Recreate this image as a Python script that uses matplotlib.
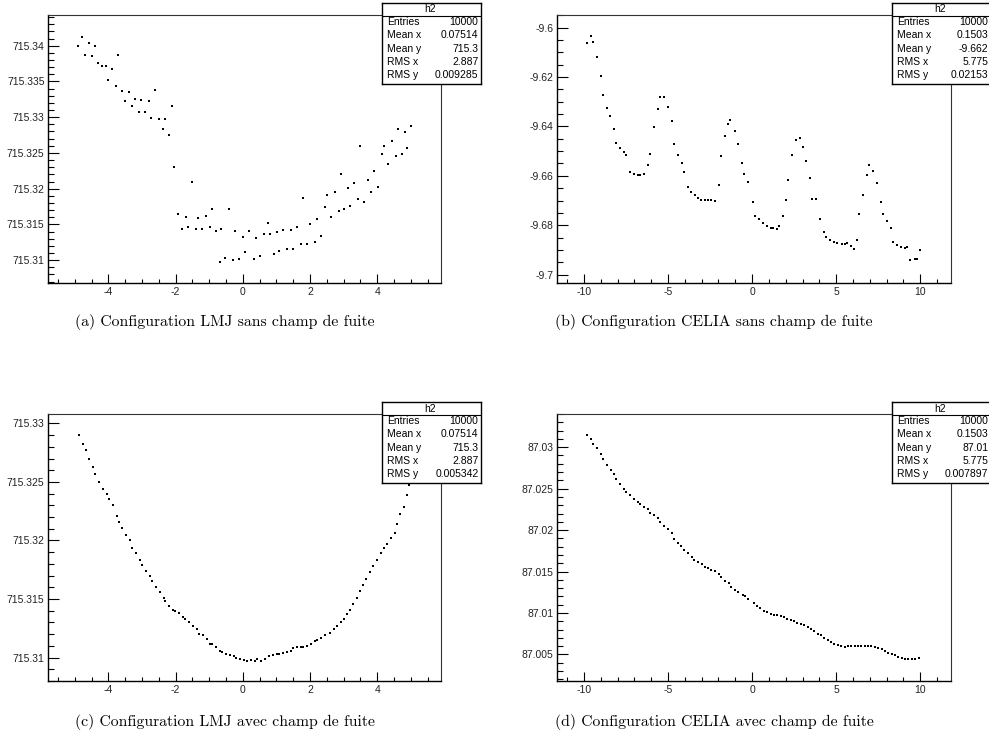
import matplotlib
matplotlib.use("Agg")
import matplotlib.pyplot as plt
from matplotlib.ticker import MultipleLocator, AutoMinorLocator, FuncFormatter

plt.rcParams["font.family"] = ["Liberation Sans", "DejaVu Sans"]

# ---- data ----
a_x = [-4.91, -4.78, -4.71, -4.59, -4.48, -4.41, -4.30, -4.19, -4.07, -4.02,
       -3.90, -3.79, -3.73, -3.60, -3.50, -3.38, -3.31, -3.20, -3.08, -3.02,
       -2.90, -2.80, -2.74, -2.62, -2.50, -2.39, -2.33, -2.21, -2.10, -2.04,
       -1.93, -1.81, -1.69, -1.63, -1.51, -1.39, -1.33, -1.22, -1.11, -0.99,
       -0.93, -0.81, -0.69, -0.64, -0.52, -0.40, -0.29, -0.23, -0.11, 0.01,
       0.07, 0.19, 0.32, 0.38, 0.50, 0.62, 0.74, 0.80, 0.92, 1.02,
       1.09, 1.21, 1.32, 1.44, 1.50, 1.61, 1.74, 1.79, 1.91, 2.01,
       2.15, 2.21, 2.32, 2.44, 2.50, 2.62, 2.74, 2.86, 2.91, 3.02,
       3.13, 3.20, 3.32, 3.43, 3.48, 3.60, 3.72, 3.83, 3.90, 4.02,
       4.14, 4.19, 4.31, 4.43, 4.55, 4.61, 4.73, 4.84, 4.90, 5.01]
a_y = [715.3399, 715.3412, 715.3387, 715.3404, 715.3386, 715.3400, 715.3376, 715.3372, 715.3371, 715.3352,
       715.3367, 715.3343, 715.3387, 715.3337, 715.3322, 715.3335, 715.3315, 715.3326, 715.3307, 715.3324,
       715.3307, 715.3322, 715.3299, 715.3338, 715.3298, 715.3283, 715.3297, 715.3275, 715.3315, 715.3231,
       715.3164, 715.3143, 715.3161, 715.3146, 715.3210, 715.3144, 715.3159, 715.3143, 715.3162, 715.3146,
       715.3172, 715.3141, 715.3098, 715.3143, 715.3103, 715.3172, 715.3100, 715.3141, 715.3102, 715.3133,
       715.3111, 715.3141, 715.3102, 715.3131, 715.3106, 715.3137, 715.3152, 715.3137, 715.3108, 715.3139,
       715.3113, 715.3142, 715.3115, 715.3142, 715.3115, 715.3147, 715.3122, 715.3187, 715.3122, 715.3150,
       715.3126, 715.3158, 715.3134, 715.3175, 715.3191, 715.3161, 715.3195, 715.3169, 715.3221, 715.3172,
       715.3201, 715.3176, 715.3208, 715.3186, 715.3260, 715.3182, 715.3212, 715.3195, 715.3225, 715.3203,
       715.3248, 715.3260, 715.3234, 715.3266, 715.3246, 715.3283, 715.3249, 715.3279, 715.3257, 715.3287]

b_x = [-9.82, -9.58, -9.44, -9.25, -9.01, -8.89, -8.65, -8.43, -8.19, -8.08,
       -7.84, -7.60, -7.48, -7.24, -7.00, -6.79, -6.65, -6.41, -6.17, -6.05,
       -5.81, -5.60, -5.46, -5.24, -5.00, -4.78, -4.66, -4.42, -4.19, -4.07,
       -3.83, -3.61, -3.37, -3.23, -3.02, -2.78, -2.64, -2.42, -2.20, -1.96,
       -1.85, -1.61, -1.41, -1.29, -1.03, -0.81, -0.58, -0.46, -0.26,
       0.06, 0.18, 0.42, 0.65, 0.89, 1.13, 1.25, 1.49, 1.61, 1.81,
       2.04, 2.16, 2.40, 2.60, 2.86, 3.00, 3.23, 3.45, 3.59, 3.83,
       4.05, 4.29, 4.38, 4.62, 4.86, 5.08, 5.32, 5.54, 5.67, 5.89,
       6.05, 6.25, 6.37, 6.61, 6.85, 6.96, 7.20, 7.44, 7.68, 7.80,
       8.02, 8.25, 8.37, 8.61, 8.85, 9.07, 9.19, 9.42, 9.66, 9.78, 10.0]
b_y = [-9.6061, -9.6032, -9.6057, -9.6120, -9.6196, -9.6272, -9.6326, -9.6358, -9.6412, -9.6466,
       -9.6488, -9.6504, -9.6515, -9.6585, -9.6591, -9.6596, -9.6596, -9.6592, -9.6558, -9.6511,
       -9.6401, -9.6331, -9.6282, -9.6282, -9.6320, -9.6380, -9.6472, -9.6515, -9.6547, -9.6585,
       -9.6645, -9.6666, -9.6677, -9.6688, -9.6699, -9.6699, -9.6699, -9.6699, -9.6704, -9.6639,
       -9.6520, -9.6439, -9.6391, -9.6374, -9.6418, -9.6472, -9.6547, -9.6591, -9.6624,
       -9.6705, -9.6764, -9.6774, -9.6792, -9.6803, -9.6812, -9.6812, -9.6814, -9.6803, -9.6764,
       -9.6699, -9.6618, -9.6515, -9.6455, -9.6445, -9.6482, -9.6542, -9.6607, -9.6693, -9.6693,
       -9.6774, -9.6828, -9.6846, -9.6861, -9.6868, -9.6873, -9.6878, -9.6878, -9.6873, -9.6884,
       -9.6895, -9.6861, -9.6753, -9.6677, -9.6596, -9.6558, -9.6580, -9.6628, -9.6705, -9.6753,
       -9.6785, -9.6812, -9.6866, -9.6882, -9.6888, -9.6893, -9.6889, -9.6942, -9.6937, -9.6937, -9.6900]

c_x = [-4.87, -4.75, -4.68, -4.57, -4.45, -4.39, -4.28, -4.17, -4.05, -3.99,
       -3.87, -3.76, -3.70, -3.59, -3.47, -3.35, -3.29, -3.17, -3.05, -2.99,
       -2.88, -2.77, -2.70, -2.58, -2.47, -2.35, -2.31, -2.19, -2.07, -2.01,
       -1.89, -1.78, -1.71, -1.60, -1.49, -1.37, -1.31, -1.19, -1.07, -0.97,
       -0.91, -0.79, -0.67, -0.61, -0.49, -0.37, -0.27, -0.21, -0.09, 0.03,
       0.13, 0.25, 0.37, 0.43, 0.55, 0.67, 0.79, 0.91, 1.02, 1.08,
       1.20, 1.31, 1.43, 1.49, 1.61, 1.73, 1.79, 1.91, 2.02, 2.14,
       2.20, 2.32, 2.44,
       2.59, 2.71, 2.80, 2.91, 3.01, 3.11, 3.19, 3.29, 3.39, 3.48,
       3.58, 3.68, 3.80, 3.88, 3.99, 4.11, 4.20, 4.30, 4.41, 4.52,
       4.59, 4.69, 4.80, 4.88, 4.96]
c_y = [715.3290, 715.3282, 715.3277, 715.3270, 715.3263, 715.3257, 715.3250, 715.3244, 715.3240, 715.3235,
       715.3230, 715.3221, 715.3216, 715.3211, 715.3205, 715.3200, 715.3194, 715.3189, 715.3183, 715.3179,
       715.3174, 715.3170, 715.3165, 715.3160, 715.3156, 715.3151, 715.3148, 715.3144, 715.3141, 715.3140,
       715.3138, 715.3135, 715.3133, 715.3130, 715.3127, 715.3124, 715.3120, 715.3119, 715.3116, 715.3112,
       715.3112, 715.3109, 715.3106, 715.3105, 715.3103, 715.3102, 715.3101, 715.3100, 715.3099, 715.3098,
       715.3097, 715.3098, 715.3097, 715.3099, 715.3097, 715.3099, 715.3101, 715.3102, 715.3103, 715.3103,
       715.3104, 715.3105, 715.3106, 715.3108, 715.3109, 715.3109, 715.3109, 715.3110, 715.3112, 715.3114,
       715.3115, 715.3117, 715.3119,
       715.3121, 715.3124, 715.3127, 715.3130, 715.3133, 715.3137, 715.3141, 715.3146, 715.3151, 715.3157,
       715.3162, 715.3167, 715.3173, 715.3178, 715.3183, 715.3189, 715.3194, 715.3197, 715.3202, 715.3206,
       715.3214, 715.3223, 715.3229, 715.3239, 715.3247]

d_x = [-9.82, -9.58, -9.46, -9.25, -9.01, -8.89, -8.65, -8.41, -8.19, -8.08,
       -7.84, -7.60, -7.48, -7.24, -7.00, -6.77, -6.65, -6.41, -6.17, -6.05,
       -5.81, -5.60, -5.48, -5.24, -5.00, -4.78, -4.66, -4.42, -4.21, -4.07,
       -3.83, -3.59, -3.47, -3.23, -3.00, -2.78, -2.64, -2.42, -2.18, -1.96,
       -1.85, -1.61, -1.37, -1.25, -1.03, -0.81, -0.56, -0.44, -0.22,
       0.1, 0.3, 0.5, 0.7, 0.9, 1.1, 1.3, 1.5, 1.7, 1.9,
       2.1, 2.3, 2.5, 2.7, 2.9, 3.1, 3.3, 3.5, 3.7, 3.9,
       4.1, 4.3, 4.5, 4.7, 4.9, 5.1, 5.3, 5.5, 5.7, 5.9,
       6.1, 6.3, 6.5, 6.7, 6.9, 7.1, 7.3, 7.5, 7.7, 7.9,
       8.1, 8.3, 8.5, 8.7, 8.9, 9.1, 9.3, 9.5, 9.7, 9.9]
d_y = [87.0315, 87.0310, 87.0304, 87.0299, 87.0292, 87.0286, 87.0279, 87.0273, 87.0268, 87.0262,
       87.0255, 87.0250, 87.0246, 87.0242, 87.0238, 87.0234, 87.0231, 87.0228, 87.0225, 87.0221,
       87.0218, 87.0215, 87.0210, 87.0205, 87.0201, 87.0196, 87.0189, 87.0184, 87.0181, 87.0176,
       87.0172, 87.0167, 87.0164, 87.0162, 87.0159, 87.0155, 87.0154, 87.0152, 87.0151, 87.0147,
       87.0143, 87.0139, 87.0136, 87.0131, 87.0128, 87.0125, 87.0122, 87.0120, 87.0117,
       87.0112, 87.0109, 87.0106, 87.0103, 87.0101, 87.0099, 87.0098, 87.0097, 87.0096, 87.0095,
       87.0093, 87.0092, 87.0090, 87.0088, 87.0087, 87.0086, 87.0083, 87.0081, 87.0078, 87.0075,
       87.0073, 87.0070, 87.0067, 87.0065, 87.0063, 87.0062, 87.0060, 87.0059, 87.0060, 87.0060,
       87.0060, 87.0060, 87.0060, 87.0060, 87.0060, 87.0060, 87.0059, 87.0058, 87.0056, 87.0054,
       87.0052, 87.0050, 87.0049, 87.0047, 87.0046, 87.0045, 87.0045, 87.0045, 87.0045, 87.0046]

stat_labels = ["Entries", "Mean x", "Mean y", "RMS x", "RMS y"]
a_stats = ["10000", "0.07514", "715.3", "2.887", "0.009285"]
b_stats = ["10000", "0.1503", "-9.662", "5.775", "0.02153"]
c_stats = ["10000", "0.07514", "715.3", "2.887", "0.005342"]
d_stats = ["10000", "0.1503", "87.01", "5.775", "0.007897"]

captions = ["(a) Configuration LMJ sans champ de fuite",
            "(b) Configuration CELIA sans champ de fuite",
            "(c) Configuration LMJ avec champ de fuite",
            "(d) Configuration CELIA avec champ de fuite"]

# ---- layout (pixel boxes: left, top, right, bottom) ----
W, H = 989, 753
fig = plt.figure(figsize=(W / 100, H / 100), dpi=100)
fig.patch.set_facecolor("white")


def frac(x0, y0, x1, y1):
    return [x0 / W, 1 - y1 / H, (x1 - x0) / W, (y1 - y0) / H]


def fmt(v, pos):
    if abs(v) < 1e-9:
        return "0"
    return "{:g}".format(round(v, 6))


panels = [
    dict(x=a_x, y=a_y, rect=(48, 15, 441, 283), xlim=(-5.80, 5.90), ylim=(715.3068, 715.3443),
         xmaj=2, xsub=4, ymaj=0.005, ysub=5, box=(382, 3, 481, 84), stats=a_stats, cap=(225, 322)),
    dict(x=b_x, y=b_y, rect=(557, 15, 951, 283), xlim=(-11.6, 11.83), ylim=(-9.7034, -9.5949),
         xmaj=5, xsub=5, ymaj=0.02, ysub=4, box=(892, 3, 991, 84), stats=b_stats, cap=(714, 322)),
    dict(x=c_x, y=c_y, rect=(48, 414, 441, 681), xlim=(-5.80, 5.90), ylim=(715.3080, 715.3308),
         xmaj=2, xsub=4, ymaj=0.005, ysub=5, box=(382, 402, 481, 483), stats=c_stats, cap=(225, 722)),
    dict(x=d_x, y=d_y, rect=(557, 414, 951, 681), xlim=(-11.6, 11.83), ylim=(87.0018, 87.0340),
         xmaj=5, xsub=5, ymaj=0.005, ysub=5, box=(892, 402, 991, 483), stats=d_stats, cap=(714, 722)),
]

for p, cap in zip(panels, captions):
    ax = fig.add_axes(frac(*p["rect"]))
    ax.plot(p["x"], p["y"], ls="none", marker="s", ms=1.6, mew=0, color="black")
    ax.set_xlim(*p["xlim"])
    ax.set_ylim(*p["ylim"])
    ax.xaxis.set_major_locator(MultipleLocator(p["xmaj"]))
    ax.xaxis.set_minor_locator(AutoMinorLocator(p["xsub"]))
    ax.yaxis.set_major_locator(MultipleLocator(p["ymaj"]))
    ax.yaxis.set_minor_locator(AutoMinorLocator(p["ysub"]))
    ax.xaxis.set_major_formatter(FuncFormatter(fmt))
    ax.yaxis.set_major_formatter(FuncFormatter(fmt))
    ax.tick_params(which="both", direction="in", top=False, right=False, width=0.8,
                   labelsize=7.5, labelcolor="#222222")
    ax.tick_params(axis="y", which="major", length=8, pad=2.5)
    ax.tick_params(axis="y", which="minor", length=4.3)
    ax.tick_params(axis="x", which="major", length=6.5, pad=3)
    ax.tick_params(axis="x", which="minor", length=3.2)
    for side in ("left", "bottom"):
        ax.spines[side].set_linewidth(1.0)
    for side in ("top", "right"):
        ax.spines[side].set_linewidth(0.8)
        ax.spines[side].set_color("#333333")

    # stats box
    bx0, by0, bx1, by1 = p["box"]
    bw, bh = bx1 - bx0, by1 - by0
    bax = fig.add_axes(frac(*p["box"]), zorder=5)
    bax.set_xlim(0, bw)
    bax.set_ylim(bh, 0)
    bax.set_xticks([])
    bax.set_yticks([])
    bax.set_facecolor("white")
    for s in bax.spines.values():
        s.set_linewidth(1.0)
        s.set_color("black")
    bax.axhline(12.5, color="black", lw=0.8)
    bax.text(bw / 2 - 1, 6.5, "h2", ha="center", va="center", fontsize=7.5)
    for k, (lab, val) in enumerate(zip(stat_labels, p["stats"])):
        yy = 12.5 + 13.3 * (k + 0.5)
        bax.text(5, yy, lab, ha="left", va="center", fontsize=7.5)
        bax.text(bw - 2.5, yy, val, ha="right", va="center", fontsize=7.5)

    cx, cy = p["cap"]
    fig.text(cx / W, 1 - cy / H, cap, ha="center", va="center", fontsize=11.3,
             family="cmr10")

fig.savefig("out.png", dpi=100, facecolor="white")
